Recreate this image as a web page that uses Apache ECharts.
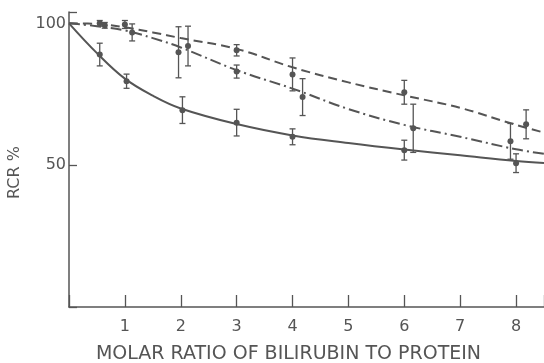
<!DOCTYPE html>
<html>
<head>
<meta charset="utf-8">
<script src="https://cdn.jsdelivr.net/npm/echarts@6/dist/echarts.min.js"></script>
<style>
  html, body { margin: 0; padding: 0; background: #fff; }
  #chart { width: 544px; height: 363px; }
</style>
</head>
<body>
<div id="chart"></div>
<script>
// measured points (x = molar ratio, y = RCR %, err = half bar length)
const solidPts = [[0.55, 89, 4], [1.03, 79.6, 2.5], [2.03, 69.4, 4.7], [3.0, 65, 4.7], [4.0, 60, 2.8], [6.0, 55.3, 3.5], [8.0, 50.7, 3.3]];
const dashPts = [[0.55, 100, 1], [1.0, 99.6, 1.4], [2.13, 92, 7], [3.0, 90.5, 2], [4.0, 82, 5.8], [6.0, 75.7, 4.2], [8.18, 64.4, 5.1]];
const dotDashPts = [[0.64, 99.3, 1], [1.13, 96.8, 3], [1.96, 89.8, 9], [3.0, 83, 2.3], [4.18, 74, 6.5], [6.16, 63, 8.5], [7.9, 58.4, 6.3]];

// fitted curves
const curveX = [0, 0.5, 1, 1.5, 2, 3, 4, 5, 6, 7, 8, 8.5];
const solidCurve = [100, 89.5, 80.5, 74.5, 70, 64.5, 60.5, 57.8, 55.5, 53.5, 51.5, 50.8];
const dashCurve = [100, 99.8, 98.6, 96.8, 94.8, 91, 84.5, 79.2, 74.6, 70.2, 64.2, 61.5];
const dotDashCurve = [100, 99, 97.5, 94.8, 91.5, 83.5, 77, 69.8, 64.2, 60, 55.6, 54];

const xTicks = [1, 2, 3, 4, 5, 6, 7, 8];
const yTicks = [50, 100];

const ink = "#555";
const font = "DejaVu Sans";

const curveSeries = (ys, type) => ({
  type: "line",
  data: curveX.map((x, i) => [x, ys[i]]),
  smooth: 0.4,
  symbol: "none",
  silent: true,
  lineStyle: { color: ink, width: 2, type },
});

const barSeries = (pts) => ({
  type: "custom",
  data: pts,
  renderItem: (params, api) => {
    const x = api.value(0), y = api.value(1), e = api.value(2);
    const c = api.coord([x, y]);
    const top = api.coord([x, y + e]);
    const bot = api.coord([x, y - e]);
    const style = { stroke: ink, lineWidth: 1.3 };
    return {
      type: "group",
      children: [
        { type: "line", shape: { x1: c[0], y1: top[1], x2: c[0], y2: bot[1] }, style },
        { type: "line", shape: { x1: c[0] - 3, y1: top[1], x2: c[0] + 3, y2: top[1] }, style },
        { type: "line", shape: { x1: c[0] - 3, y1: bot[1], x2: c[0] + 3, y2: bot[1] }, style },
        { type: "circle", shape: { cx: c[0], cy: c[1], r: 3 }, style: { fill: ink } },
      ],
    };
  },
});

const chart = echarts.init(document.getElementById("chart"), null, { renderer: "canvas" });
chart.setOption({
  animation: false,
  backgroundColor: "#fff",
  grid: { left: 69, right: 0, top: 12, bottom: 56, outerBoundsMode: "none", containLabel: false },
  xAxis: {
    type: "value",
    min: 0,
    max: 8.5,
    interval: 1,
    splitLine: { show: false },
    axisLine: { lineStyle: { color: ink, width: 1.5 } },
    axisTick: { inside: true, length: 12, lineStyle: { color: ink, width: 1.3 } },
    axisLabel: {
      color: ink,
      fontSize: 16,
      fontFamily: font,
      margin: 12,
      formatter: (v) => (xTicks.includes(v) ? String(v) : ""),
    },
    name: "MOLAR RATIO OF BILIRUBIN TO PROTEIN",
    nameLocation: "middle",
    nameGap: 38,
    nameTextStyle: { color: ink, fontSize: 19, fontFamily: font, padding: [0, 36, 0, 0] },
  },
  yAxis: {
    type: "value",
    min: 0,
    max: 104,
    interval: 50,
    splitLine: { show: false },
    axisLine: { lineStyle: { color: ink, width: 1.5 } },
    axisTick: { inside: true, length: 8, lineStyle: { color: ink, width: 1.3 } },
    axisLabel: {
      color: ink,
      fontSize: 16,
      fontFamily: font,
      margin: 3,
      formatter: (v) => (yTicks.includes(v) ? String(v) : ""),
    },
    name: "RCR %",
    nameLocation: "middle",
    nameGap: 46,
    nameRotate: 90,
    nameTextStyle: { color: ink, fontSize: 16, fontFamily: font, padding: [0, 26, 0, 0] },
  },
  series: [
    curveSeries(solidCurve, "solid"),
    curveSeries(dashCurve, [9, 5]),
    curveSeries(dotDashCurve, [11, 4, 2, 4]),
    barSeries(solidPts),
    barSeries(dashPts),
    barSeries(dotDashPts),
  ],
});
</script>
</body>
</html>
